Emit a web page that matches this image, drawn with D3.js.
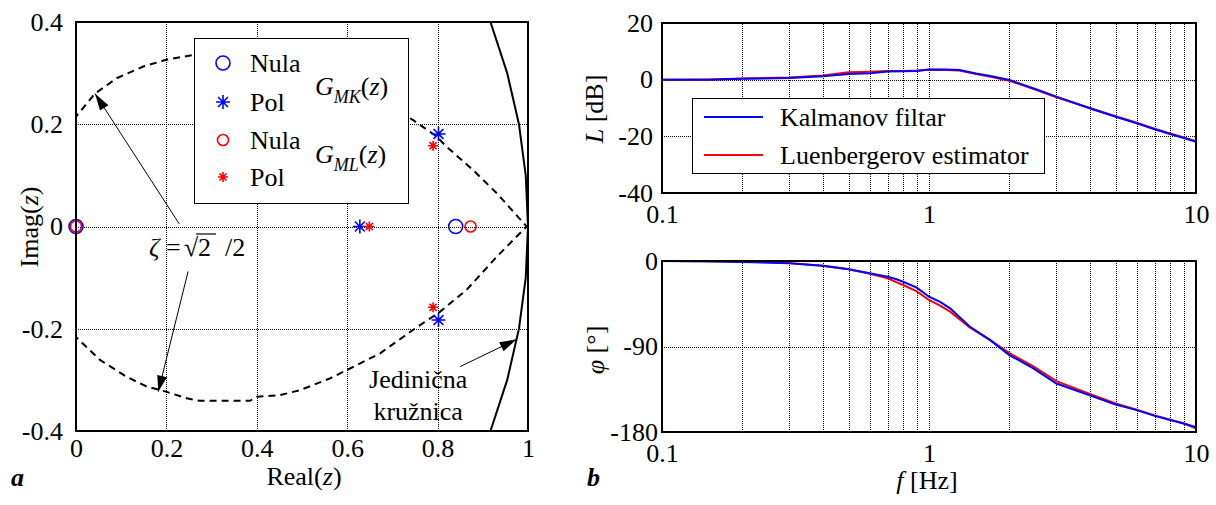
<!DOCTYPE html>
<html><head><meta charset="utf-8">
<script src="https://cdn.jsdelivr.net/npm/d3@7"></script>
<style>
body{margin:0;background:#fff;}
svg, svg text, svg tspan{font-family:"Liberation Serif","Times New Roman",Times,"DejaVu Serif",serif !important;}
</style></head><body>
<svg id="c" width="1216" height="505"></svg>
<script>
// ---------- data ----------
const pzTicksX = [0, 0.2, 0.4, 0.6, 0.8, 1];
const pzTicksY = [-0.4, -0.2, 0, 0.2, 0.4];
const pzGridX = [0.2, 0.4, 0.6, 0.8];
const pzGridY = [-0.2, 0, 0.2];
const zerosMK = [[0, 0], [0.84, 0]];
const polesMK = [[0.628, 0], [0.802, 0.181], [0.802, -0.183]];
const zerosML = [[0, 0], [0.873, 0]];
const polesML = [[0.649, 0], [0.79, 0.158], [0.79, -0.158]];
const zetaUpper = [[-0.02,0.19],[0,0.215],[0.042,0.26],[0.09,0.29],[0.149,0.313],[0.199,0.326],[0.256,0.335],[0.30,0.341],[0.39,0.341],[0.45,0.33],[0.56,0.297],[0.60,0.281],[0.673,0.248],[0.746,0.208],[0.798,0.176],[0.82,0.156],[0.879,0.11],[0.931,0.065],[0.997,0]];
const zetaLower = [[-0.02,-0.19],[0,-0.216],[0.053,-0.261],[0.112,-0.294],[0.156,-0.313],[0.199,-0.323],[0.245,-0.336],[0.274,-0.341],[0.385,-0.341],[0.40,-0.333],[0.451,-0.33],[0.496,-0.32],[0.562,-0.297],[0.599,-0.281],[0.673,-0.248],[0.746,-0.202],[0.805,-0.167],[0.864,-0.124],[0.931,-0.059],[0.997,0]];
const unitCircle = [[0.917,0.4],[0.954,0.3],[0.98,0.2],[0.995,0.1],[1,0],[0.995,-0.1],[0.98,-0.2],[0.954,-0.3],[0.917,-0.4]];

const freqTicks = [0.1, 1, 10];
const freqGrid = [0.2,0.3,0.4,0.5,0.6,0.7,0.8,0.9,1,2,3,4,5,6,7,8,9];
const magTicks = [-40, -20, 0, 20];
const magGrid = [-20, 0];
const phaseTicks = [-180, -90, 0];
const phaseGrid = [-90];

const freqMag   = [0.1,0.15,0.2,0.3,0.4,0.5,0.6,0.7,0.8,0.9,1.0,1.15,1.3,1.5,1.7,2,2.5,3,4,5,6,7,8,9,10];
const magKalman = [0.0,0.0,0.3,0.6,1.2,2.0,2.3,2.9,3.0,3.1,3.6,3.6,3.4,2.2,1.3,-0.1,-3.3,-6.0,-10.1,-13.1,-15.4,-17.5,-19.2,-20.6,-21.9];
const magLuen   = [0.0,0.1,0.4,0.8,1.5,2.6,2.8,3.1,3.1,3.2,3.5,3.4,3.2,2.0,1.0,-0.4,-3.5,-6.2,-10.0,-12.9,-15.2,-17.3,-19.0,-20.4,-21.7];

const freqPhase   = [0.1,0.15,0.2,0.3,0.4,0.5,0.6,0.7,0.75,0.8,0.9,1.0,1.1,1.2,1.42,1.69,2,2.46,3,4,5,6,7,8,9,10];
const phaseKalman = [0,-0.5,-1,-2.5,-5,-8.7,-13,-16.5,-19,-21.8,-28,-37.6,-43,-49.8,-69,-83,-99,-113,-129,-141.5,-151,-157,-163,-167.4,-171,-175];
const phaseLuen   = [0,0,-0.5,-2,-5,-8.7,-13.5,-18.2,-22,-25.3,-32,-41,-47,-53.3,-70,-83,-97,-111,-126.4,-140,-150,-156.5,-162.5,-167,-171,-176];

// ---------- setup ----------
const svg = d3.select("#c");
const FS = 26;
const FONT = '"Liberation Serif","Times New Roman",Times,serif';
const fmt = d => String(d);
const GRID = "#000";

// ---------- left: pole-zero map ----------
const xL = d3.scaleLinear().domain([0, 1]).range([76, 528]);
const yL = d3.scaleLinear().domain([-0.4, 0.4]).range([431, 22]);

svg.append("defs").append("clipPath").attr("id","clipL")
  .append("rect").attr("x",76).attr("y",22).attr("width",452).attr("height",409);

const gL = svg.append("g");
gL.selectAll("line.gx").data(pzGridX).join("line")
  .attr("x1",d=>Math.round(xL(d))+0.5).attr("x2",d=>Math.round(xL(d))+0.5).attr("y1",yL(-0.4)).attr("y2",yL(0.4))
  .attr("stroke",GRID).attr("stroke-width",1).attr("stroke-dasharray","1,1");
gL.selectAll("line.gy").data(pzGridY).join("line")
  .attr("y1",d=>Math.round(yL(d))+0.5).attr("y2",d=>Math.round(yL(d))+0.5).attr("x1",xL(0)).attr("x2",xL(1))
  .attr("stroke",GRID).attr("stroke-width",1).attr("stroke-dasharray","1,1");

const axL = gL.append("g").attr("transform",`translate(${xL(0)},0)`)
  .call(d3.axisLeft(yL).tickValues(pzTicksY).tickSize(0).tickPadding(13).tickFormat(fmt));
const axB = gL.append("g").attr("transform",`translate(0,${yL(-0.4)})`)
  .call(d3.axisBottom(xL).tickValues(pzTicksX).tickSize(0).tickPadding(8).tickFormat(fmt));
[axL, axB].forEach(a => { a.attr("font-family",null).attr("font-size",null); a.select(".domain").remove(); a.selectAll("text").attr("font-size",FS).attr("fill","#000"); });

const line = d3.line().x(d=>xL(d[0])).y(d=>yL(d[1]));
const gc = gL.append("g").attr("clip-path","url(#clipL)");
gc.append("path").attr("d", line(unitCircle)).attr("fill","none").attr("stroke","#000").attr("stroke-width",2);
[zetaUpper, zetaLower].forEach(c => gc.append("path").attr("d", line(c)).attr("fill","none")
  .attr("stroke","#000").attr("stroke-width",2).attr("stroke-dasharray","7,5"));

function star(s){ const k = s*0.7071;
  return `M${-s},0L${s},0M0,${-s}L0,${s}M${-k},${-k}L${k},${k}M${-k},${k}L${k},${-k}`; }
function drawZeros(data, r, col){
  gL.selectAll(null).data(data).join("circle").attr("cx",d=>xL(d[0])).attr("cy",d=>yL(d[1]))
    .attr("r",r).attr("fill","none").attr("stroke",col).attr("stroke-width",1.6);
}
function drawPoles(data, s, col){
  gL.selectAll(null).data(data).join("path").attr("transform",d=>`translate(${xL(d[0])},${yL(d[1])})`)
    .attr("d",star(s)).attr("fill","none").attr("stroke",col).attr("stroke-width",1.6);
}
drawZeros(zerosMK, 7, "#0000ff");
drawPoles(polesMK, 7, "#0000ff");
drawZeros(zerosML, 5.5, "#ff0000");
drawPoles(polesML, 5, "#ff0000");

const lg = gL.append("g");
lg.append("rect").attr("x",194.5).attr("y",38.5).attr("width",214).attr("height",165).attr("fill","#fff").attr("stroke","#000").attr("stroke-width",1);
const legItems = [
  {t:"Nula", y:63, kind:"o", r:7, col:"#0000ff"},
  {t:"Pol", y:102, kind:"*", r:7, col:"#0000ff"},
  {t:"Nula", y:140, kind:"o", r:5.5, col:"#ff0000"},
  {t:"Pol", y:177, kind:"*", r:5, col:"#ff0000"}
];
legItems.forEach(it => {
  if (it.kind === "o") lg.append("circle").attr("cx",223).attr("cy",it.y).attr("r",it.r).attr("fill","none").attr("stroke",it.col).attr("stroke-width",1.6);
  else lg.append("path").attr("transform",`translate(223,${it.y})`).attr("d",star(it.r)).attr("fill","none").attr("stroke",it.col).attr("stroke-width",1.6);
  lg.append("text").attr("x",250).attr("y",it.y+9).attr("font-size",FS).text(it.t);
});
function gLabel(x, y, sub){
  const t = lg.append("text").attr("x",x).attr("y",y).attr("font-size",FS);
  t.append("tspan").attr("font-style","italic").text("G");
  t.append("tspan").attr("font-style","italic").attr("font-size",18).attr("dy",8).text(sub);
  t.append("tspan").attr("dy",-8).text("(");
  t.append("tspan").attr("font-style","italic").text("z");
  t.append("tspan").text(")");
}
gLabel(315, 95, "MK");
gLabel(315, 163, "ML");

gL.append("rect").attr("x",76).attr("y",22).attr("width",452).attr("height",409).attr("fill","none").attr("stroke","#000").attr("stroke-width",2);

function arrow(g, x1, y1, x2, y2, len, w){
  g.append("line").attr("x1",x1).attr("y1",y1).attr("x2",x2).attr("y2",y2).attr("stroke","#000").attr("stroke-width",1);
  const dx = x2-x1, dy = y2-y1, L = Math.hypot(dx,dy), ux = dx/L, uy = dy/L;
  const bx = x2-ux*len, by = y2-uy*len;
  g.append("path").attr("d",`M${x2},${y2}L${bx-uy*w},${by+ux*w}L${bx+uy*w},${by-ux*w}Z`).attr("fill","#000");
}
arrow(gL, xL(0.2285), yL(0.005), xL(0.042), yL(0.26), 17, 5);
arrow(gL, xL(0.248), yL(-0.088), xL(0.182), yL(-0.323), 16, 5);
arrow(gL, xL(0.85), yL(-0.274), xL(0.975), yL(-0.2206), 17, 5);

// zeta text
const zg = gL.append("g").attr("font-size",FS);
zg.append("text").attr("x",149).attr("y",256).attr("font-style","italic").text("ζ");
zg.append("text").attr("x",166).attr("y",256).text("=");
zg.append("text").attr("x",184).attr("y",256).text("√");
zg.append("text").attr("x",198).attr("y",256).text("2");
zg.append("text").attr("x",225).attr("y",256).text("/2");
gL.append("line").attr("x1",196).attr("x2",216).attr("y1",234).attr("y2",234).attr("stroke","#000").attr("stroke-width",1.2);

gL.append("text").attr("x",xL(0.757)).attr("y",yL(-0.316)).attr("text-anchor","middle").attr("font-size",FS).text("Jedinična");
gL.append("text").attr("x",xL(0.757)).attr("y",yL(-0.378)).attr("text-anchor","middle").attr("font-size",FS).text("kružnica");

const yt = svg.append("text").attr("transform","translate(38,227) rotate(-90)").attr("text-anchor","middle").attr("font-size",FS);
yt.append("tspan").text("Imag(");
yt.append("tspan").attr("font-style","italic").text("z");
yt.append("tspan").text(")");
const xt = svg.append("text").attr("x",304).attr("y",485).attr("text-anchor","middle").attr("font-size",FS);
xt.append("tspan").text("Real(");
xt.append("tspan").attr("font-style","italic").text("z");
xt.append("tspan").text(")");
svg.append("text").attr("x",11).attr("y",486).attr("font-size",FS).attr("font-weight","bold").attr("font-style","italic").text("a");

// ---------- right: Bode ----------
const xR = d3.scaleLog().domain([0.1, 10]).range([662, 1196]);
const yM = d3.scaleLinear().domain([-40, 20]).range([193, 23]);
const yP = d3.scaleLinear().domain([-180, 0]).range([432, 261]);

function bodePanel(yS, yTicks, yGrid, series, pad){
  const g = svg.append("g");
  const [y0, y1] = yS.range();
  g.selectAll(null).data(freqGrid).join("line")
    .attr("x1",d=>Math.round(xR(d))+0.5).attr("x2",d=>Math.round(xR(d))+0.5).attr("y1",y0).attr("y2",y1)
    .attr("stroke",GRID).attr("stroke-width",1).attr("stroke-dasharray","1,1");
  g.selectAll(null).data(yGrid).join("line")
    .attr("y1",d=>Math.round(yS(d))+0.5).attr("y2",d=>Math.round(yS(d))+0.5).attr("x1",xR(0.1)).attr("x2",xR(10))
    .attr("stroke",GRID).attr("stroke-width",1).attr("stroke-dasharray","1,1");
  const a1 = g.append("g").attr("transform",`translate(${xR(0.1)},0)`)
    .call(d3.axisLeft(yS).tickValues(yTicks).tickSize(0).tickPadding(pad).tickFormat(fmt));
  const a2 = g.append("g").attr("transform",`translate(0,${y0})`)
    .call(d3.axisBottom(xR).tickValues(freqTicks).tickSize(0).tickPadding(12).tickFormat(fmt));
  [a1,a2].forEach(a => { a.attr("font-family",null).attr("font-size",null); a.select(".domain").remove(); a.selectAll("text").attr("font-size",FS).attr("fill","#000"); });
  series.forEach(s => {
    const ln = d3.line().x((d,i)=>xR(s.f[i])).y(d=>yS(d));
    g.append("path").attr("d", ln(s.v)).attr("fill","none").attr("stroke",s.col).attr("stroke-width",2);
  });
  g.append("rect").attr("x",xR(0.1)).attr("y",y1).attr("width",xR(10)-xR(0.1)).attr("height",y0-y1)
    .attr("fill","none").attr("stroke","#000").attr("stroke-width",2);
  return g;
}
bodePanel(yM, magTicks, magGrid, [
  {f:freqMag, v:magLuen, col:"#ff0000"},
  {f:freqMag, v:magKalman, col:"#0000ff"}], 9);
bodePanel(yP, phaseTicks, phaseGrid, [
  {f:freqPhase, v:phaseLuen, col:"#ff0000"},
  {f:freqPhase, v:phaseKalman, col:"#0000ff"}], 4);

const lr = svg.append("g");
lr.append("rect").attr("x",692.5).attr("y",98.5).attr("width",352).attr("height",75).attr("fill","#fff").attr("stroke","#000").attr("stroke-width",1);
[{t:"Kalmanov filtar", y:117, col:"#0000ff"},{t:"Luenbergerov estimator", y:155, col:"#ff0000"}].forEach(it=>{
  lr.append("line").attr("x1",704).attr("x2",763).attr("y1",it.y).attr("y2",it.y).attr("stroke",it.col).attr("stroke-width",2);
  lr.append("text").attr("x",780).attr("y",it.y+9).attr("font-size",FS).text(it.t);
});

const lt = svg.append("text").attr("transform","translate(603,109) rotate(-90)").attr("text-anchor","middle").attr("font-size",FS);
lt.append("tspan").attr("font-style","italic").text("L");
lt.append("tspan").text(" [dB]");
const pt = svg.append("text").attr("transform","translate(604,350) rotate(-90)").attr("text-anchor","middle").attr("font-size",FS);
pt.append("tspan").attr("font-style","italic").text("φ");
pt.append("tspan").text(" [°]");
const ft = svg.append("text").attr("x",927).attr("y",489).attr("text-anchor","middle").attr("font-size",FS);
ft.append("tspan").attr("font-style","italic").text("f");
ft.append("tspan").text(" [Hz]");
svg.append("text").attr("x",587).attr("y",486).attr("font-size",FS).attr("font-weight","bold").attr("font-style","italic").text("b");

svg.selectAll("text").style("font-family", FONT);
</script>
</body></html>
